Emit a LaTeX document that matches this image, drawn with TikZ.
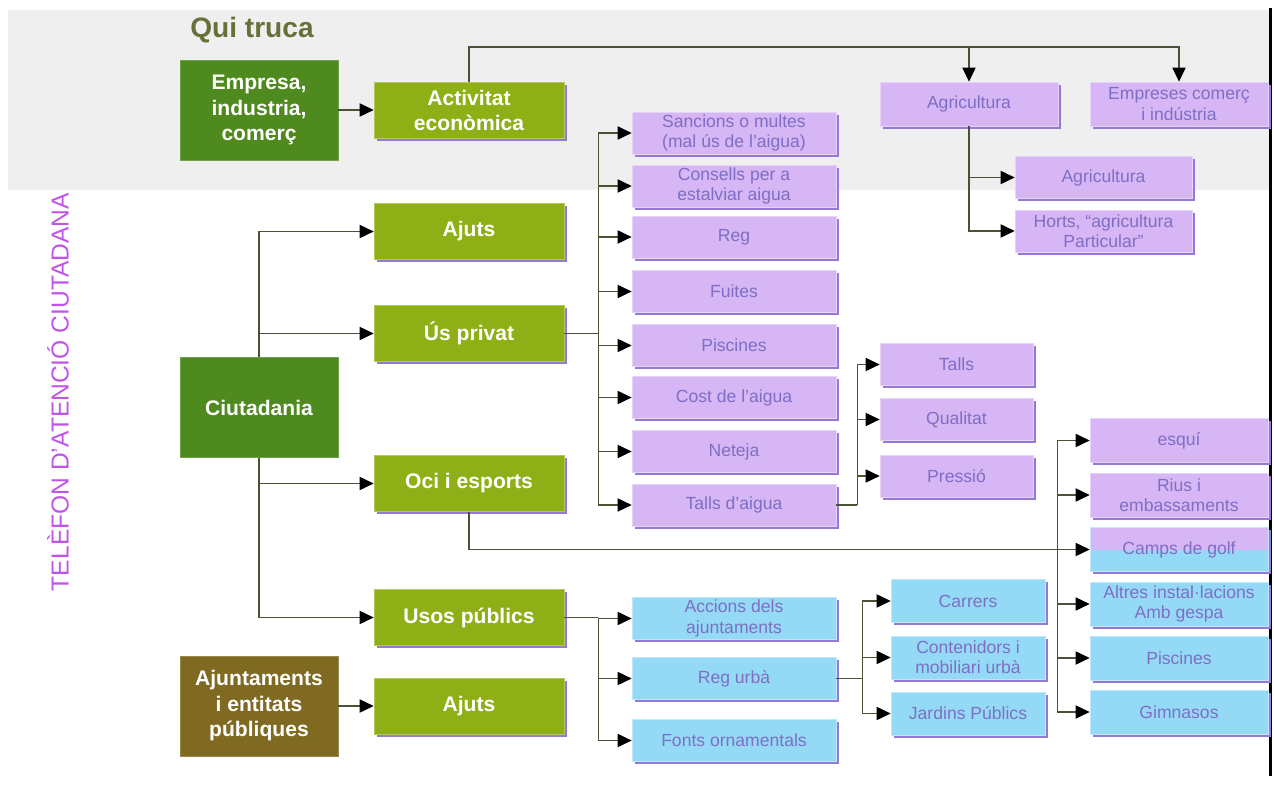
\documentclass[tikz,border=0pt]{standalone}
\usepackage{fontspec}
\setmainfont{Liberation Sans}
\usepackage{tikz}
\usetikzlibrary{arrows.meta, shadows}
\definecolor{bandgray}{RGB}{239,239,239}
\definecolor{rootgreen}{RGB}{78,138,30}
\definecolor{rootbrown}{RGB}{128,106,34}
\definecolor{midolive}{RGB}{142,176,22}
\definecolor{leafpurple}{RGB}{214,182,244}
\definecolor{leafcyan}{RGB}{148,218,246}
\definecolor{leaftext}{RGB}{126,110,198}
\definecolor{shadowviolet}{RGB}{150,120,215}
\definecolor{wireolive}{RGB}{72,82,52}
\definecolor{titleolive}{RGB}{104,112,58}
\definecolor{phoneviolet}{RGB}{192,84,232}

\tikzset{
  rootbox/.style={draw=rootgreen!80!white, fill=rootgreen, minimum width=3.16cm, minimum height=2cm,
    inner sep=0pt, align=center, text=white, font=\fontsize{12}{14.5}\selectfont\bfseries},
  midbox/.style={draw=midolive!70!white, fill=midolive, minimum width=3.8cm, minimum height=1.12cm,
    inner sep=0pt, align=center, text=white, font=\fontsize{12}{14}\selectfont\bfseries,
    drop shadow={shadow xshift=1.6pt, shadow yshift=-1.6pt, fill=shadowviolet, opacity=1}},
  leafbox/.style={draw=leafpurple!60!white, fill=leafpurple, minimum width=4.08cm, minimum height=0.84cm,
    inner sep=0pt, align=center, text=leaftext, font=\fontsize{10}{11.5}\selectfont,
    drop shadow={shadow xshift=1.6pt, shadow yshift=-1.6pt, fill=shadowviolet, opacity=1}},
  cyanbox/.style={leafbox, fill=leafcyan, draw=leafcyan!60!white},
  wire/.style={draw=wireolive, line width=0.8pt},
  arr/.style={wire, -{Triangle[length=8pt, width=7.5pt, color=black]}}
}

\begin{document}
\begin{tikzpicture}[x=0.02cm, y=-0.02cm]
    \useasboundingbox (0,0) rectangle (1274,793);
    % Band and frame
    \fill[bandgray] (8,10) rectangle (1270,190);
    \fill[black] (1269,8) rectangle (1272,776);

    % Titles
    \node[font=\fontsize{16}{18}\selectfont\bfseries, text=titleolive] (title) at (252,30) {Qui truca};
    \node[rotate=90, font=\fontsize{14}{16}\selectfont, text=phoneviolet] (phone) at (58,392) {TELÈFON D'ATENCIÓ CIUTADANA};

    % Who calls
    \node[rootbox] (empresa) at (259,110) {Empresa,\\industria,\\comerç};
    \node[rootbox] (ciut) at (259,407.5) {Ciutadania};
    \node[rootbox, fill=rootbrown, draw=rootbrown!80!white] (ajunt) at (259,706) {Ajuntaments\\i entitats\\públiques};

    % Subjects
    \node[midbox] (activitat) at (469,110.5) {Activitat\\econòmica};
    \node[midbox] (ajuts) at (469,231.5) {Ajuts};
    \node[midbox] (usprivat) at (469,333.5) {Ús privat};
    \node[midbox] (oci) at (469,483.5) {Oci i esports};
    \node[midbox] (usos) at (469,617.5) {Usos públics};
    \node[midbox] (ajuts2) at (469,706.5) {Ajuts};

    % Economic activity
    \node[leafbox, minimum width=3.56cm, minimum height=0.88cm] (agric) at (969,104) {Agricultura};
    \node[leafbox, minimum width=3.56cm, minimum height=0.88cm] (empreses) at (1179,104) {Empreses comerç\\i indústria};
    \node[leafbox, minimum width=3.54cm] (agric2) at (1103.5,177.5) {Agricultura};
    \node[leafbox, minimum width=3.54cm] (horts) at (1103.5,231) {Horts, “agricultura\\Particular”};

    % Private use
    \node[leafbox] (sancions) at (734,133) {Sancions o multes\\(mal ús de l'aigua)};
    \node[leafbox] (consells) at (734,186) {Consells per a\\estalviar aigua};
    \node[leafbox] (reg) at (734,237) {Reg};
    \node[leafbox] (fuites) at (734,291.5) {Fuites};
    \node[leafbox] (piscines) at (734,345.5) {Piscines};
    \node[leafbox] (cost) at (734,397.5) {Cost de l'aigua};
    \node[leafbox] (neteja) at (734,451.5) {Neteja};
    \node[leafbox] (talls) at (734,505) {Talls d'aigua};

    \node[leafbox, minimum width=3.06cm] (tall) at (956.5,364.5) {Talls};
    \node[leafbox, minimum width=3.06cm] (qualitat) at (956.5,419.5) {Qualitat};
    \node[leafbox, minimum width=3.06cm] (pressio) at (956.5,476) {Pressió};

    % Leisure and sport
    \node[leafbox, minimum width=3.56cm, minimum height=0.88cm] (esqui) at (1179,440.5) {esquí};
    \node[leafbox, minimum width=3.56cm, minimum height=0.88cm] (rius) at (1179,495) {Rius i\\embassaments};
    \node[cyanbox, minimum width=3.56cm, minimum height=0.88cm,
      path picture={\fill[leafpurple] (path picture bounding box.north west) rectangle (path picture bounding box.east);}]
      (golf) at (1179,549.5) {Camps de golf};
    \node[cyanbox, minimum width=3.56cm, minimum height=0.88cm] (altres) at (1179,604) {Altres instal·lacions\\Amb gespa};
    \node[cyanbox, minimum width=3.56cm, minimum height=0.88cm] (piscines2) at (1179,658) {Piscines};
    \node[cyanbox, minimum width=3.56cm, minimum height=0.88cm] (gimnasos) at (1179,712) {Gimnasos};

    % Public uses
    \node[cyanbox] (accions) at (734,618.5) {Accions dels\\ajuntaments};
    \node[cyanbox] (regurba) at (734,678.5) {Reg urbà};
    \node[cyanbox] (fonts) at (734,740.5) {Fonts ornamentals};

    \node[cyanbox, minimum width=3.08cm, minimum height=0.86cm] (carrers) at (968,601) {Carrers};
    \node[cyanbox, minimum width=3.08cm, minimum height=0.86cm] (contenidors) at (968,657.5) {Contenidors i\\mobiliari urbà};
    \node[cyanbox, minimum width=3.08cm, minimum height=0.86cm] (jardins) at (968,713.5) {Jardins Públics};

    % Connectors
    \draw[arr] (empresa.east) -- (activitat.west |- empresa.east);
    \draw[arr] (ajunt.east) -- (ajuts2.west |- ajunt.east);
    \draw[arr] (activitat.north) -- ++(0,-35) -| (empreses.north);
    \draw[arr] (activitat.north) ++(0,-35) -| (agric.north);
    \foreach \n in {agric2, horts}
        \draw[arr] (agric.south) |- (\n.west);

    \foreach \n in {ajuts, usprivat}
        \draw[arr] (ciut.north) |- (\n.west);
    \foreach \n in {oci, usos}
        \draw[arr] (ciut.south) |- (\n.west);

    \draw[wire] (usprivat.east) -- ++(34,0) coordinate (pbus);
    \foreach \n in {sancions, consells, reg, fuites, piscines, cost, neteja, talls}
        \draw[arr] (pbus) |- (\n.west);

    \draw[wire] (talls.east) -- ++(21,0) coordinate (tbus);
    \foreach \n in {tall, qualitat, pressio}
        \draw[arr] (tbus) |- (\n.west);

    \draw[arr] (oci.south) |- (golf.west);
    \path (golf.west) ++(-32,0) coordinate (obus);
    \foreach \n in {esqui, rius, altres, piscines2, gimnasos}
        \draw[arr] (obus) |- (\n.west);

    \draw[wire] (usos.east) -- ++(34,0) coordinate (ubus);
    \foreach \n in {accions, regurba, fonts}
        \draw[arr] (ubus) |- (\n.west);

    \draw[wire] (regurba.east) -- ++(26,0) coordinate (rbus);
    \foreach \n in {carrers, contenidors, jardins}
        \draw[arr] (rbus) |- (\n.west);
\end{tikzpicture}
\end{document}
